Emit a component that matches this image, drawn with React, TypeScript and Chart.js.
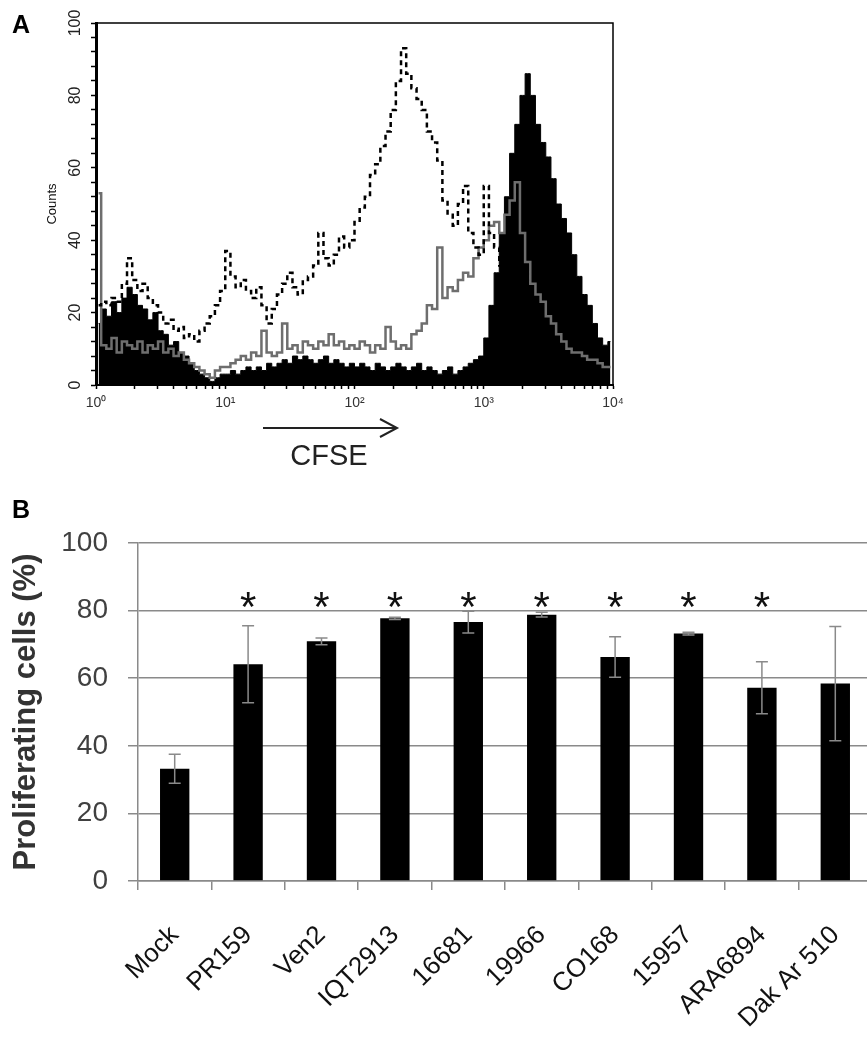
import React, { useEffect, useRef } from 'react';
import { Chart, registerables } from 'chart.js';

Chart.register(...registerables);

const FONT = "'Liberation Sans', Arial, Helvetica, sans-serif";

// ---------- Panel A: CFSE histogram (25 bins per decade, 10^0 .. 10^4) ----------
const decadeLabels = ['10⁰', '10¹', '10²', '10³', '10⁴'];
const binsPerDecade = 25;

// filled black histogram
const countsFilled = [
  17, 21, 19, 23, 20, 24, 27, 25, 22, 21, 18, 20, 15, 14, 11, 12, 9, 8, 6, 4, 3, 2, 1, 2, 3,
  3, 4, 3, 4, 5, 4, 5, 4, 6, 5, 6, 7, 6, 8, 7, 8, 7, 6, 7, 8, 6, 7, 6, 5, 6,
  5, 6, 5, 4, 6, 5, 4, 5, 6, 5, 4, 5, 6, 4, 5, 4, 3, 4, 5, 3, 4, 5, 6, 7, 8,
  13, 22, 31, 42, 52, 64, 72, 80, 86, 80, 72, 67, 63, 57, 50, 46, 42, 36, 30, 25, 22, 17, 13, 11, 12,
];

// grey line histogram
const countsGrey = [
  53, 11, 10, 13, 9, 12, 11, 10, 12, 9, 11, 10, 12, 9, 10, 8, 9, 7, 6, 5, 4, 3, 2, 4, 5,
  5, 6, 7, 8, 7, 9, 8, 15, 9, 8, 9, 17, 10, 11, 9, 12, 11, 10, 12, 11, 14, 11, 12, 10, 11,
  10, 12, 11, 9, 11, 10, 16, 12, 10, 11, 10, 14, 15, 17, 22, 21, 38, 24, 27, 26, 29, 31, 30, 35, 38,
  40, 44, 45, 42, 47, 51, 56, 42, 34, 28, 25, 23, 19, 17, 14, 12, 10, 9, 9, 8, 7, 7, 6, 5, 5,
];

// dashed line histogram
const countsDashed = [
  22, 23, 22, 24, 23, 28, 35, 29, 26, 28, 24, 22, 20, 17, 18, 15, 16, 13, 14, 12, 15, 17, 19, 22, 26,
  37, 30, 27, 29, 26, 24, 27, 22, 17, 21, 25, 28, 31, 27, 25, 29, 30, 33, 42, 35, 33, 36, 41, 38, 40,
  45, 49, 52, 58, 61, 66, 70, 76, 84, 93, 86, 82, 79, 76, 70, 67, 62, 51, 47, 44, 50, 55, 42, 38, 36,
  55, 42, 38, 33, 28, 24, 20, 16, 13, 11, 9, 8, 7, 6, 5, 5, 4, 4, 3, 3, 3, 2, 2, 2, 2,
];

const countsMax = 100;
const countsTickStep = 4;
const countsLabelStep = 20;

// ---------- Panel B: proliferating cells ----------
const strains = ['Mock', 'PR159', 'Ven2', 'IQT2913', '16681', '19966', 'CO168', '15957', 'ARA6894', 'Dak Ar 510'];
const proliferating = [33.2, 64.1, 70.9, 77.7, 76.6, 78.8, 66.3, 73.2, 57.2, 58.4];
const sdErrors = [4.3, 11.4, 1.0, 0.3, 3.2, 0.7, 6.0, 0.4, 7.7, 16.9];
const significant = [false, true, true, true, true, true, true, true, true, false];
const starLevel = 84;
const percentMax = 100;
const percentStep = 20;

const toPoints = (arr: number[]) => arr.map((c, i) => ({ x: i + 0.5, y: c }));

export default function App() {
  const refA = useRef<HTMLCanvasElement | null>(null);
  const refB = useRef<HTMLCanvasElement | null>(null);

  useEffect(() => {
    const nDecades = decadeLabels.length - 1;
    const majorTicks = decadeLabels.map((_, d) => d * binsPerDecade);
    const xTicksA: number[] = [];
    for (let d = 0; d < nDecades; d++) {
      for (let m = 1; m <= 9; m++) xTicksA.push(binsPerDecade * (d + Math.log10(m)));
    }
    xTicksA.push(nDecades * binsPerDecade);
    const yTicksA: number[] = [];
    for (let v = 0; v <= countsMax; v += countsTickStep) yTicksA.push(v);

    const framePlugin = {
      id: 'frame',
      afterDraw(chart: any) {
        const { ctx, chartArea } = chart;
        const { left, top, right, bottom } = chartArea;
        ctx.save();
        ctx.strokeStyle = '#000';
        ctx.lineWidth = 1.5;
        ctx.beginPath();
        ctx.moveTo(left, top);
        ctx.lineTo(right, top);
        ctx.lineTo(right, bottom);
        ctx.stroke();
        ctx.restore();
      },
    };

    const chartA = new Chart(refA.current as HTMLCanvasElement, {
      type: 'line',
      data: {
        datasets: [
          {
            label: 'dashed',
            data: toPoints(countsDashed),
            borderColor: '#000',
            borderWidth: 2.5,
            borderDash: [5, 4],
            stepped: 'middle',
            pointRadius: 0,
            fill: false,
          },
          {
            label: 'grey',
            data: toPoints(countsGrey),
            borderColor: '#6e6e6e',
            borderWidth: 2.5,
            stepped: 'middle',
            pointRadius: 0,
            fill: false,
          },
          {
            label: 'filled',
            data: toPoints(countsFilled),
            borderColor: '#000',
            backgroundColor: '#000',
            borderWidth: 1,
            stepped: 'middle',
            pointRadius: 0,
            fill: 'origin',
          },
        ],
      } as any,
      options: {
        responsive: false,
        animation: false,
        layout: { padding: { top: 23, right: 27, left: 0, bottom: 0 } },
        plugins: { legend: { display: false }, tooltip: { enabled: false } },
        scales: {
          x: {
            type: 'linear',
            min: 0,
            max: nDecades * binsPerDecade,
            afterBuildTicks: (s: any) => {
              s.ticks = xTicksA.map((v) => ({ value: v }));
            },
            afterFit: (s: any) => {
              s.height = 45;
            },
            ticks: {
              autoSkip: false,
              maxRotation: 0,
              minRotation: 0,
              padding: 6,
              color: '#333',
              font: { family: FONT, size: 14 },
              callback: (v: any) => {
                const k = majorTicks.indexOf(Number(v));
                return k >= 0 ? decadeLabels[k] : '';
              },
            },
            grid: { drawOnChartArea: false, tickLength: 4, color: '#000', tickWidth: 1.5 },
            border: { color: '#000', width: 2 },
          },
          y: {
            min: 0,
            max: countsMax,
            afterBuildTicks: (s: any) => {
              s.ticks = yTicksA.map((v) => ({ value: v }));
            },
            afterFit: (s: any) => {
              s.width = 96;
            },
            ticks: {
              autoSkip: false,
              minRotation: 90,
              maxRotation: 90,
              crossAlign: 'center',
              padding: 2,
              color: '#222',
              font: { family: FONT, size: 16 },
              callback: (v: any) => (Number(v) % countsLabelStep === 0 ? String(v) : ''),
            },
            grid: { drawOnChartArea: false, tickLength: 5, color: '#000', tickWidth: 1.5 },
            border: { color: '#000', width: 3 },
            title: {
              display: true,
              text: 'Counts',
              color: '#111',
              font: { family: FONT, size: 13 },
              padding: { top: 45, bottom: 0 },
            },
          },
        },
      } as any,
      plugins: [framePlugin],
    });

    const errorBarPlugin = {
      id: 'errorBars',
      afterDatasetsDraw(chart: any) {
        const { ctx } = chart;
        const x = chart.scales.x;
        const y = chart.scales.y;
        ctx.save();
        ctx.strokeStyle = '#8a8a8a';
        ctx.lineWidth = 1.5;
        proliferating.forEach((v, i) => {
          const px = x.getPixelForValue(i);
          const top = y.getPixelForValue(v + sdErrors[i]);
          const bot = y.getPixelForValue(v - sdErrors[i]);
          ctx.beginPath();
          ctx.moveTo(px, top);
          ctx.lineTo(px, bot);
          ctx.moveTo(px - 6, top);
          ctx.lineTo(px + 6, top);
          ctx.moveTo(px - 6, bot);
          ctx.lineTo(px + 6, bot);
          ctx.stroke();
        });
        ctx.restore();
      },
    };

    const starPlugin = {
      id: 'stars',
      afterDatasetsDraw(chart: any) {
        const { ctx } = chart;
        const x = chart.scales.x;
        const y = chart.scales.y;
        const size = 42;
        ctx.save();
        ctx.fillStyle = '#111';
        ctx.font = `${size}px ${FONT}`;
        ctx.textAlign = 'center';
        ctx.textBaseline = 'alphabetic';
        significant.forEach((s, i) => {
          if (!s) return;
          const px = x.getPixelForValue(i);
          const py = y.getPixelForValue(starLevel);
          ctx.fillText('*', px, py + size * 0.57);
        });
        ctx.restore();
      },
    };

    const chartB = new Chart(refB.current as HTMLCanvasElement, {
      type: 'bar',
      data: {
        labels: strains,
        datasets: [
          {
            data: proliferating,
            backgroundColor: '#000',
            borderWidth: 0,
            barPercentage: 0.4,
            categoryPercentage: 1,
          },
        ],
      },
      options: {
        responsive: false,
        animation: false,
        layout: { padding: { top: 53, right: 28, left: 0, bottom: 0 } },
        plugins: { legend: { display: false }, tooltip: { enabled: false } },
        scales: {
          x: {
            afterFit: (s: any) => {
              s.height = 156;
            },
            ticks: {
              autoSkip: false,
              minRotation: 45,
              maxRotation: 45,
              padding: 30,
              color: '#111',
              font: { family: FONT, size: 26 },
            },
            grid: { offset: true, drawOnChartArea: false, tickLength: 9, color: '#8a8a8a', lineWidth: 1.5 },
            border: { color: '#8a8a8a', width: 1.5 },
          },
          y: {
            min: 0,
            max: percentMax,
            afterFit: (s: any) => {
              s.width = 138;
            },
            ticks: {
              stepSize: percentStep,
              padding: 20,
              color: '#404040',
              font: { family: FONT, size: 28 },
            },
            grid: { color: '#8a8a8a', lineWidth: 1.5, tickLength: 10 },
            border: { color: '#8a8a8a', width: 1.5 },
            title: {
              display: true,
              text: 'Proliferating cells (%)',
              color: '#333',
              font: { family: FONT, size: 31, weight: 'bold' },
              padding: { top: 8, bottom: 0 },
            },
          },
        },
      } as any,
      plugins: [errorBarPlugin, starPlugin],
    });

    return () => {
      chartA.destroy();
      chartB.destroy();
    };
  }, []);

  return (
    <div
      style={{
        position: 'absolute',
        left: 0,
        top: 0,
        width: 867,
        height: 1037,
        overflow: 'hidden',
        background: '#fff',
        fontFamily: FONT,
      }}
    >
      <canvas ref={refA} width={640} height={430} style={{ position: 'absolute', left: 0, top: 0 }} />
      <canvas ref={refB} width={900} height={547} style={{ position: 'absolute', left: 0, top: 490 }} />
      <svg width={150} height={26} style={{ position: 'absolute', left: 258, top: 415 }}>
        <line x1={5} y1={13} x2={139} y2={13} stroke="#222" strokeWidth={2} />
        <polyline points="122,4 139,13 122,22" fill="none" stroke="#222" strokeWidth={2} />
      </svg>
      <div
        style={{
          position: 'absolute',
          left: 229,
          width: 200,
          top: 441,
          textAlign: 'center',
          fontSize: 29,
          lineHeight: '29px',
          color: '#222',
        }}
      >
        CFSE
      </div>
      <div style={{ position: 'absolute', left: 12, top: 12, fontSize: 25, lineHeight: '25px', fontWeight: 'bold' }}>A</div>
      <div style={{ position: 'absolute', left: 12, top: 497, fontSize: 25, lineHeight: '25px', fontWeight: 'bold' }}>B</div>
    </div>
  );
}
